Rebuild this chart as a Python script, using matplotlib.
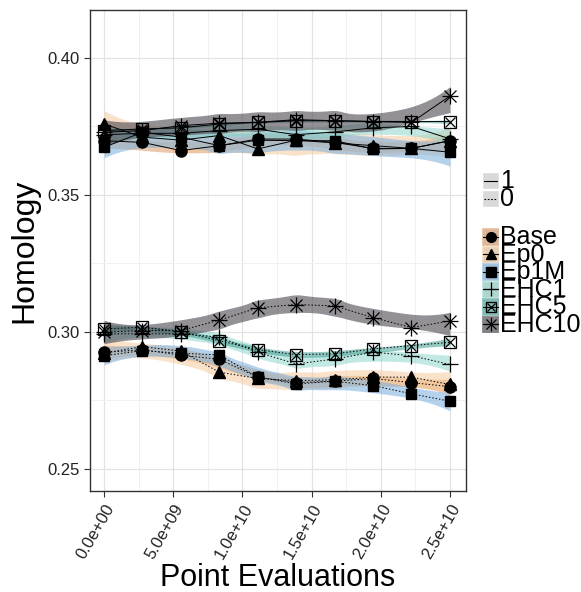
import numpy as np
import matplotlib
matplotlib.use("Agg")
import matplotlib.pyplot as plt
from matplotlib.patches import Rectangle

plt.rcParams['font.family'] = ['Liberation Sans', 'DejaVu Sans']

# evaluation points (10 checkpoints up to 2.5e10)
evals = np.linspace(0, 2.5e10, 10)

series = ['Base', 'Ep0', 'Ep1M', 'EHC1', 'EHC5', 'EHC10']
fills = ['#DE9A66', '#F6C796', '#78AEDD', '#86D3C8', '#3F9D92', '#4B4650']
alphas = [0.55, 0.5, 0.55, 0.5, 0.55, 0.6]

# linetype "1" (solid) group
homology_1 = {
    'Base':  [0.3698, 0.3692, 0.3662, 0.3680, 0.3704, 0.3704, 0.3692, 0.3670, 0.3670, 0.3698],
    'Ep0':   [0.3759, 0.3711, 0.3700, 0.3717, 0.3668, 0.3700, 0.3690, 0.3680, 0.3670, 0.3698],
    'Ep1M':  [0.3674, 0.3729, 0.3711, 0.3680, 0.3700, 0.3698, 0.3698, 0.3668, 0.3670, 0.3656],
    'EHC1':  [0.3720, 0.3725, 0.3725, 0.3735, 0.3740, 0.3720, 0.3730, 0.3745, 0.3750, 0.3705],
    'EHC5':  [0.3735, 0.3741, 0.3745, 0.3759, 0.3765, 0.3771, 0.3771, 0.3768, 0.3768, 0.3768],
    'EHC10': [0.3729, 0.3735, 0.3753, 0.3762, 0.3765, 0.3775, 0.3771, 0.3768, 0.3765, 0.3861],
}
# linetype "0" (dotted) group
homology_0 = {
    'Base':  [0.2925, 0.2935, 0.2915, 0.2900, 0.2835, 0.2815, 0.2820, 0.2830, 0.2815, 0.2800],
    'Ep0':   [0.2923, 0.2946, 0.2930, 0.2853, 0.2830, 0.2822, 0.2825, 0.2835, 0.2835, 0.2808],
    'Ep1M':  [0.2913, 0.2932, 0.2922, 0.2916, 0.2835, 0.2810, 0.2820, 0.2804, 0.2774, 0.2747],
    'EHC1':  [0.2993, 0.2993, 0.2993, 0.2981, 0.2926, 0.2883, 0.2901, 0.2926, 0.2913, 0.2881],
    'EHC5':  [0.3011, 0.3017, 0.3001, 0.2968, 0.2935, 0.2917, 0.2920, 0.2938, 0.2950, 0.2962],
    'EHC10': [0.2999, 0.3005, 0.3005, 0.3043, 0.3088, 0.3100, 0.3095, 0.3052, 0.3016, 0.3040],
}

xticks = [0, 5e9, 1e10, 1.5e10, 2e10, 2.5e10]
xticklabels = ['0.0e+00', '5.0e+09', '1.0e+10', '1.5e+10', '2.0e+10', '2.5e+10']
yticks = [0.25, 0.30, 0.35, 0.40]


def loess_band(x, y, xg, span=0.75, tval=3.3):
    """local quadratic fit with tricube weights, plus a confidence band"""
    x = np.asarray(x, float)
    y = np.asarray(y, float)
    scale = x.max() - x.min()
    xs = (x - x.min()) / scale
    gs = (xg - x.min()) / scale
    q = int(np.floor(len(x) * span))

    def rows(pts):
        out = []
        for p in pts:
            d = np.abs(xs - p)
            h = np.sort(d)[q - 1] * 1.0001
            w = np.clip(1 - (d / h) ** 3, 0, None) ** 3
            X = np.column_stack([np.ones_like(xs), xs - p, (xs - p) ** 2])
            XtW = X.T * w
            out.append(np.linalg.solve(XtW @ X, XtW)[0])
        return np.array(out)

    L = rows(xs)
    resid = y - L @ y
    M = np.eye(len(x)) - L
    d1 = np.trace(M.T @ M)
    sigma = np.sqrt(np.sum(resid ** 2) / d1)
    Lg = rows(gs)
    fit = Lg @ y
    se = sigma * np.sqrt(np.sum(Lg ** 2, axis=1))
    return fit - tval * se, fit + tval * se


def draw_marker(ax, x, y, name, size=8):
    kw = dict(color='black', linestyle='none', zorder=5)
    if name == 'Base':
        ax.plot(x, y, marker='o', markersize=size, **kw)
    elif name == 'Ep0':
        ax.plot(x, y, marker='^', markersize=size, **kw)
    elif name == 'Ep1M':
        ax.plot(x, y, marker='s', markersize=size * 0.95, **kw)
    elif name == 'EHC1':
        ax.plot(x, y, marker='+', markersize=size * 1.4, markeredgewidth=0.9, **kw)
    elif name == 'EHC5':
        ax.plot(x, y, marker='s', markersize=size * 1.05, markerfacecolor='none',
                markeredgewidth=0.9, **kw)
        ax.plot(x, y, marker='x', markersize=size * 0.85, markeredgewidth=0.9, **kw)
    elif name == 'EHC10':
        ax.plot(x, y, marker='+', markersize=size * 1.4, markeredgewidth=0.9, **kw)
        ax.plot(x, y, marker='x', markersize=size * 1.1, markeredgewidth=0.9, **kw)


def main():
    fig = plt.figure(figsize=(5.81, 5.92), dpi=100)
    ax = fig.add_axes([0.155, 0.171, 0.647, 0.812])

    grid = np.linspace(evals.min(), evals.max(), 120)
    for data, ls in ((homology_1, '-'), (homology_0, (0, (1.5, 2)))):
        for name, col, a in zip(series, fills, alphas):
            lo, hi = loess_band(evals, data[name], grid)
            ax.fill_between(grid, lo, hi, color=col, alpha=a, linewidth=0, zorder=2)
        for name in series:
            ax.plot(evals, data[name], color='black', linewidth=0.7, linestyle=ls, zorder=4)
            draw_marker(ax, evals, data[name], name)

    ax.set_xlim(-1.01e9, 2.616e10)
    ax.set_ylim(0.242, 0.4175)
    ax.set_xticks(xticks)
    ax.set_xticklabels(xticklabels, rotation=60, ha='right', rotation_mode='anchor')
    ax.set_yticks(yticks)
    ax.set_yticklabels(['%.2f' % v for v in yticks])
    ax.set_xticks([2.5e9, 7.5e9, 1.25e10, 1.75e10, 2.25e10], minor=True)
    ax.set_yticks([0.275, 0.325, 0.375], minor=True)
    ax.tick_params(axis='both', which='major', labelsize=12, color='#333333',
                   length=4, width=0.8, labelcolor='#222222')
    ax.tick_params(axis='both', which='minor', length=0)
    ax.grid(True, which='major', color='#E3E3E3', linewidth=0.9, zorder=0)
    ax.grid(True, which='minor', color='#F1F1F1', linewidth=0.7, zorder=0)
    ax.set_axisbelow(True)
    for s in ax.spines.values():
        s.set_color('#333333')
        s.set_linewidth(1.0)

    ax.set_xlabel('Point Evaluations', fontsize=22, labelpad=1)
    ax.set_ylabel('Homology', fontsize=23, labelpad=6)

    # legends drawn in a free overlay axes using pixel coordinates
    lax = fig.add_axes([0, 0, 1, 1], facecolor='none')
    lax.set_xlim(0, 581)
    lax.set_ylim(592, 0)
    lax.axis('off')

    kx, kw_ = 482, 17
    for i, (lab, ls) in enumerate((('1', '-'), ('0', (0, (1.5, 1.5))))):
        y0 = 172 + i * 18
        lax.add_patch(Rectangle((kx, y0), kw_, 17, facecolor='#D9D9D9',
                                edgecolor='white', linewidth=1))
        lax.plot([kx + 2, kx + kw_ - 2], [y0 + 8.5, y0 + 8.5], color='black',
                 linewidth=0.8, linestyle=ls)
        lax.text(kx + kw_ + 1, y0 + 9, lab, fontsize=18, va='center', ha='left')

    for i, (name, col, a) in enumerate(zip(series, fills, alphas)):
        y0 = 228 + i * 17.5
        lax.add_patch(Rectangle((kx, y0), kw_, 17.5, facecolor='#D9D9D9',
                                edgecolor='white', linewidth=1))
        lax.add_patch(Rectangle((kx, y0), kw_, 17.5, facecolor=col, alpha=a,
                                edgecolor='none'))
        lax.plot([kx + 1, kx + kw_ - 1], [y0 + 8.75, y0 + 8.75], color='black',
                 linewidth=0.8)
        draw_marker(lax, [kx + kw_ / 2], [y0 + 8.75], name, size=7)
        lax.text(kx + kw_ + 1, y0 + 9.5, name, fontsize=18, va='center', ha='left')

    fig.savefig('out.png', dpi=100)


if __name__ == '__main__':
    main()
